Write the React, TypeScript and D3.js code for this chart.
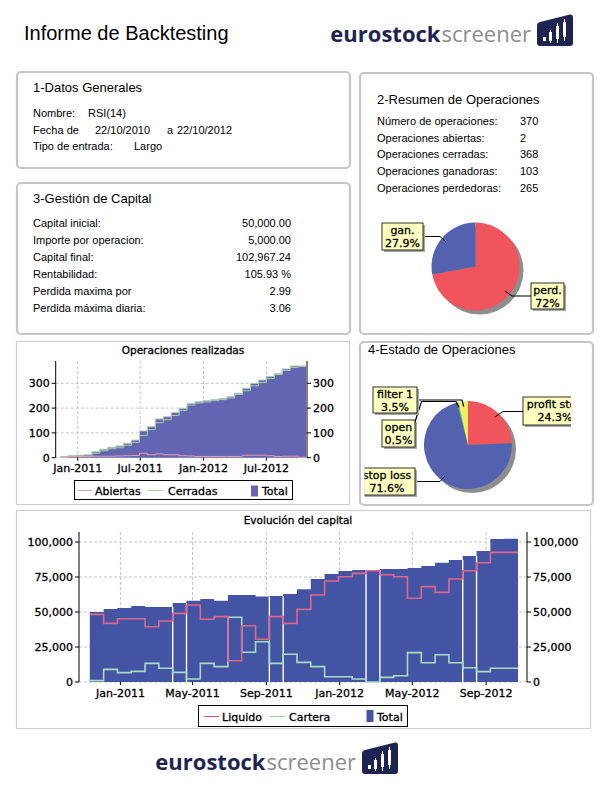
import React from 'react';
import * as d3 from 'd3';

// ---------------- DATA ----------------
const stepDates = [
  '2010-11-11', '2010-12-04', '2010-12-27', '2011-01-19', '2011-02-11', '2011-03-06', '2011-03-29', '2011-04-21',
  '2011-05-14', '2011-06-06', '2011-06-29', '2011-07-22', '2011-08-14', '2011-09-06', '2011-09-29', '2011-10-22',
  '2011-11-14', '2011-12-07', '2011-12-30', '2012-01-22', '2012-02-14', '2012-03-08', '2012-03-31', '2012-04-23',
  '2012-05-16', '2012-06-08', '2012-07-01', '2012-07-24', '2012-08-16', '2012-09-08', '2012-10-01', '2012-10-24',
];

const capTotal = [50000, 52100, 52800, 54200, 53600, 53600, 56400, 58000, 59300, 58000, 62100, 62100, 61000, 61400, 62900, 66200,
  73600, 77100, 79300, 80000, 80000, 80700, 80700, 81400, 82900, 85200, 87100, 90000, 93600, 102100, 102400];
const capLiquido = [48300, 41900, 45200, 45200, 39500, 43600, 49000, 55000, 44800, 46700, 15200, 40200, 30500, 46700, 41900, 51900,
  62100, 72100, 75200, 77600, 79500, 76600, 75200, 59800, 68100, 64000, 73600, 79500, 85200, 92600, 92600];
const capCartera = [1000, 9000, 6700, 7600, 13300, 9800, 6900, 2100, 13300, 11000, 46200, 21200, 28800, 13300, 19800, 14000,
  11000, 3800, 3800, 2100, 0, 3300, 4500, 21000, 13800, 19500, 13800, 10200, 7400, 9800, 9800];
const capGapSteps = [6, 7, 13, 14, 20, 21, 27, 28];

const opsTotal = [5, 9, 10, 12, 24, 34, 42, 47, 58, 71, 108, 125, 156, 165, 182, 199, 219, 226, 230, 235, 239, 246, 260, 280,
  300, 313, 327, 340, 358, 370, 370];
const opsAbiertas = [4, 4, 5, 6, 6, 6, 6, 7, 8, 9, 18, 12, 15, 12, 12, 8, 7, 5, 5, 5, 5, 5, 5, 10, 10, 10, 8, 5, 6, 6, 2];
const opsCerradas = [1, 5, 5, 6, 18, 28, 36, 40, 50, 62, 90, 113, 141, 153, 170, 191, 212, 221, 225, 230, 234, 241, 255, 270,
  290, 303, 319, 335, 352, 364, 368];

const capXTicks = ['2011-01-01', '2011-05-01', '2011-09-01', '2012-01-01', '2012-05-01', '2012-09-01'];
const capYTicks = [0, 25000, 50000, 75000, 100000];
const opsXTicks = ['2011-01-01', '2011-07-01', '2012-01-01', '2012-07-01'];
const opsYTicks = [0, 100, 200, 300];

const datosGenerales = [
  ['Nombre:', 'RSI(14)'],
  ['Fecha de', '22/10/2010', 'a', '22/10/2012'],
  ['Tipo de entrada:', 'Largo'],
];
const resumenLabels = ['Número de operaciones:', 'Operaciones abiertas:', 'Operaciones cerradas:', 'Operaciones ganadoras:', 'Operaciones perdedoras:'];
const resumenValues = ['370', '2', '368', '103', '265'];
const capitalLabels = ['Capital inicial:', 'Importe por operacion:', 'Capital final:', 'Rentabilidad:', 'Perdida maxima por', 'Perdida máxima diaria:'];
const capitalValues = ['50,000.00', '5,000.00', '102,967.24', '105.93 %', '2.99', '3.06'];

const ganPerdNames = ['perd.', 'gan.'];
const ganPerdValues = [72, 27.9];
const estadoNames = ['profit stop', 'stop loss', 'open', 'filter 1'];
const estadoValues = [24.3, 71.6, 0.5, 3.5];

// ---------------- STYLE / LAYOUT ----------------
const CHART_FONT = '"DejaVu Sans", sans-serif';
const PANEL_FONT = '"Liberation Sans", Arial, sans-serif';
const C_RED = '#f0545c';
const C_BLUE = '#5262ae';
const C_GREEN = '#55cc55';
const C_YELLOW = '#f3ef64';
const C_CAP = '#4454a4';
const C_OPS = '#6364b2';
const heavy = { stroke: '#000', strokeWidth: 0.3 } as const;

const parse = d3.timeParse('%Y-%m-%d');
type P = { d: Date; v: number };
const stepPoints = (values: number[]): P[] =>
  stepDates.map((s, i) => ({ d: parse(s) as Date, v: values[Math.min(i, values.length - 1)] }));

const Panel = ({ x, y, w, h, thin }: { x: number; y: number; w: number; h: number; thin?: boolean }) =>
  thin ? (
    <rect x={x + 0.5} y={y + 0.5} width={w} height={h} fill="#fff" stroke="#cfcfcf" strokeWidth={1.2} />
  ) : (
    <rect x={x + 1} y={y + 1} width={w} height={h} rx={4} fill="#fff" stroke="#c6c6c6" strokeWidth={2.2} />
  );

// x = join point between the two words
const Logo = ({ x, y }: { x: number; y: number }) => (
  <g transform={`translate(${x},${y})`}>
    <text x={-0.5} y={0} textAnchor="end" fontFamily='"Open Sans", sans-serif' fontWeight={700} fontSize={22} fill="#1e2452">eurostock</text>
    <text x={0.5} y={0} textAnchor="start" fontFamily='"Open Sans", sans-serif' fontWeight={400} fontSize={22} fill="#8d8d8d">screener</text>
    <g transform="translate(96,-28)">
      <path d="M3,8 Q0,8.6 0,11.6 L0,29 Q0,32 3,32 L33,32 Q36,32 36,29 L36,3 Q36,0 33,0.6 Z" fill="#1e2452" />
      <rect x={6} y={23} width={3} height={4} fill="#fff" />
      <line x1={13.5} y1={16} x2={13.5} y2={29} stroke="#fff" strokeWidth={1} />
      <rect x={12} y={18} width={3} height={9} fill="#fff" />
      <line x1={20.5} y1={9} x2={20.5} y2={29} stroke="#fff" strokeWidth={1} />
      <rect x={19} y={12} width={3} height={13} fill="#fff" />
      <line x1={27.5} y1={5} x2={27.5} y2={27} stroke="#fff" strokeWidth={1} />
      <rect x={26} y={8} width={3} height={15} fill="#fff" />
    </g>
  </g>
);

const LabelBox = ({ x, y, w, h, lines, cx }: { x: number; y: number; w: number; h: number; lines: string[]; cx: number }) => (
  <g>
    <rect x={x + 2} y={y + 2} width={w} height={h} fill="#a8a8a8" />
    <rect x={x} y={y} width={w} height={h} fill="#ffffc0" stroke="#000" strokeWidth={0.8} />
    {lines.map((t, i) => (
      <text key={i} x={cx} y={y + 11 + i * 12.5} textAnchor="middle" fontFamily={CHART_FONT} fontSize={11} fill="#000" {...heavy}>{t}</text>
    ))}
  </g>
);

// ---------------- CHARTS ----------------
const CapitalChart = () => {
  const x = d3.scaleTime().domain([parse('2010-10-24') as Date, parse('2012-11-08') as Date]).range([79, 527]);
  const y = d3.scaleLinear().domain([0, 100000]).range([682, 542]);
  const top = 532;
  const area = d3.area<P>().x((p) => x(p.d)).y0(y(0)).y1((p) => y(p.v)).curve(d3.curveStepAfter);
  const line = d3.line<P>().x((p) => x(p.d)).y((p) => y(p.v)).curve(d3.curveStepAfter);
  const fmtX = d3.timeFormat('%b-%Y');
  const fmtY = d3.format(',');
  const [l, r] = x.range();
  return (
    <g>
      {capYTicks.map((t) => (
        <line key={'h' + t} x1={l} x2={r} y1={y(t)} y2={y(t)} stroke="#c4c4c4" strokeDasharray="3,2" />
      ))}
      {capXTicks.map((t) => (
        <line key={'v' + t} x1={x(parse(t) as Date)} x2={x(parse(t) as Date)} y1={top} y2={y(0)} stroke="#c4c4c4" strokeDasharray="3,2" />
      ))}
      <path d={area(stepPoints(capTotal)) || ''} fill={C_CAP} />
      {capGapSteps.map((k) => {
        const gx = x(parse(stepDates[k]) as Date);
        return <line key={'g' + k} x1={gx} x2={gx} y1={y(0)} y2={y(Math.min(capTotal[k - 1], capTotal[k]))} stroke="#fff" strokeWidth={1.4} />;
      })}
      <path d={line(stepPoints(capCartera)) || ''} fill="none" stroke="#a6dcc2" strokeWidth={1.6} />
      <path d={line(stepPoints(capLiquido)) || ''} fill="none" stroke="#e0668a" strokeWidth={1.6} />
      <line x1={l} x2={l} y1={top} y2={y(0)} stroke="#000" strokeWidth={1} />
      <line x1={r} x2={r} y1={top} y2={y(0)} stroke="#000" strokeWidth={1} />
      <g fontFamily={CHART_FONT} fontSize={11} {...heavy}>
        {capYTicks.map((t) => (
          <g key={'yt' + t}>
            <line x1={l - 4} x2={l} y1={y(t)} y2={y(t)} stroke="#000" strokeWidth={1} />
            <line x1={r} x2={r + 4} y1={y(t)} y2={y(t)} stroke="#000" strokeWidth={1} />
            <text x={l - 6} y={y(t) + 4} textAnchor="end">{fmtY(t)}</text>
            <text x={r + 6} y={y(t) + 4} textAnchor="start">{fmtY(t)}</text>
          </g>
        ))}
        {capXTicks.map((t) => {
          const tx = x(parse(t) as Date);
          return (
            <g key={'xt' + t}>
              <line x1={tx} x2={tx} y1={y(0)} y2={y(0) + 3} stroke="#000" strokeWidth={1} />
              <text x={tx} y={697} textAnchor="middle">{fmtX(parse(t) as Date)}</text>
            </g>
          );
        })}
        <text x={298} y={524} textAnchor="middle" fontSize={10.5}>Evolución del capital</text>
      </g>
      {/* legend */}
      <rect x={198.5} y={705.5} width={209} height={21} fill="#fff" stroke="#000" strokeWidth={1} />
      <line x1={204} x2={219} y1={716.5} y2={716.5} stroke="#e0506e" strokeWidth={1} />
      <line x1={270} x2={285} y1={716.5} y2={716.5} stroke="#8fd08f" strokeWidth={1} />
      <rect x={366.5} y={710} width={7} height={12} fill={C_CAP} />
      <g fontFamily={CHART_FONT} fontSize={11} {...heavy}>
        <text x={222} y={720.5}>Liquido</text>
        <text x={289} y={720.5}>Cartera</text>
        <text x={377} y={720.5}>Total</text>
      </g>
    </g>
  );
};

const OpsChart = () => {
  const x = d3.scaleTime().domain([parse('2010-10-29') as Date, parse('2012-10-27') as Date]).range([55.7, 307]);
  const y = d3.scaleLinear().domain([0, 300]).range([457.7, 383.3]);
  const top = 361;
  const area = d3.area<P>().x((p) => x(p.d)).y0(y(0)).y1((p) => y(p.v)).curve(d3.curveStepAfter);
  const line = d3.line<P>().x((p) => x(p.d)).y((p) => y(p.v)).curve(d3.curveStepAfter);
  const fmtX = d3.timeFormat('%b-%Y');
  const [l, r] = x.range();
  return (
    <g>
      {opsYTicks.map((t) => (
        <line key={'h' + t} x1={l} x2={r} y1={y(t)} y2={y(t)} stroke="#c4c4c4" strokeDasharray="3,2" />
      ))}
      {opsXTicks.map((t) => (
        <line key={'v' + t} x1={x(parse(t) as Date)} x2={x(parse(t) as Date)} y1={top} y2={y(0)} stroke="#c4c4c4" strokeDasharray="3,2" />
      ))}
      <path d={area(stepPoints(opsTotal)) || ''} fill={C_OPS} />
      <path d={line(stepPoints(opsTotal)) || ''} fill="none" stroke="#b8c8c0" strokeWidth={1} />
      <path d={line(stepPoints(opsCerradas)) || ''} fill="none" stroke="#a4d4a4" strokeWidth={1} />
      <path d={line(stepPoints(opsAbiertas)) || ''} fill="none" stroke="#e8a0a8" strokeWidth={1} />
      <line x1={l} x2={l} y1={top} y2={y(0)} stroke="#000" />
      <line x1={r} x2={r} y1={top} y2={y(0)} stroke="#000" />
      <g fontFamily={CHART_FONT} fontSize={11} {...heavy}>
        {opsYTicks.map((t) => (
          <g key={'yt' + t}>
            <line x1={l - 4} x2={l} y1={y(t)} y2={y(t)} stroke="#000" strokeWidth={1} />
            <line x1={r} x2={r + 4} y1={y(t)} y2={y(t)} stroke="#000" strokeWidth={1} />
            <text x={l - 6} y={y(t) + 4} textAnchor="end">{t}</text>
            <text x={r + 6} y={y(t) + 4} textAnchor="start">{t}</text>
          </g>
        ))}
        {opsXTicks.map((t) => {
          const tx = x(parse(t) as Date);
          return (
            <g key={'xt' + t}>
              <line x1={tx} x2={tx} y1={y(0)} y2={y(0) + 3} stroke="#000" strokeWidth={1} />
              <text x={tx} y={472} textAnchor="middle">{fmtX(parse(t) as Date)}</text>
            </g>
          );
        })}
        <text x={183} y={354} textAnchor="middle" fontSize={10.5}>Operaciones realizadas</text>
      </g>
      <rect x={74.5} y={480.5} width={218} height={19} fill="#fff" stroke="#000" strokeWidth={1} />
      <line x1={78} x2={92} y1={490.5} y2={490.5} stroke="#e8a0a8" />
      <line x1={148} x2={163} y1={490.5} y2={490.5} stroke="#a4d4a4" />
      <rect x={251} y={485.5} width={7} height={11} fill={C_OPS} />
      <g fontFamily={CHART_FONT} fontSize={11} {...heavy}>
        <text x={95} y={495}>Abiertas</text>
        <text x={168} y={495}>Cerradas</text>
        <text x={262} y={495}>Total</text>
      </g>
    </g>
  );
};

const PieChart = ({ cx, cy, names, values, colors }: { cx: number; cy: number; names: string[]; values: number[]; colors: string[] }) => {
  const R = 44;
  const arcs = d3.pie<number>().sort(null).value((v) => v)(values);
  const arc = d3.arc<d3.PieArcDatum<number>>().innerRadius(0).outerRadius(R);
  return (
    <g>
      <circle cx={cx + 4} cy={cy + 4} r={R} fill="#8e8e8e" />
      <g transform={`translate(${cx},${cy})`}>
        {arcs.map((a, i) => (
          <path key={names[i]} d={arc(a) || ''} fill={colors[i]} />
        ))}
      </g>
    </g>
  );
};

const anchor = (cx: number, cy: number, values: number[], i: number) => {
  const arcs = d3.pie<number>().sort(null).value((v) => v)(values);
  const m = (arcs[i].startAngle + arcs[i].endAngle) / 2;
  const rr = 44 * 0.88;
  return [cx + Math.sin(m) * rr, cy - Math.cos(m) * rr];
};

export default function App() {
  const p1 = { cx: 475.5, cy: 266.5 };
  const p2 = { cx: 468, cy: 445 };
  const aPerd = anchor(p1.cx, p1.cy, ganPerdValues, 0);
  const aGan = anchor(p1.cx, p1.cy, ganPerdValues, 1);
  const aProfit = anchor(p2.cx, p2.cy, estadoValues, 0);
  const aLoss = anchor(p2.cx, p2.cy, estadoValues, 1);
  const aOpen = anchor(p2.cx, p2.cy, estadoValues, 2);
  const aFilter = anchor(p2.cx, p2.cy, estadoValues, 3);
  return (
    <svg width={612} height={796} style={{ position: 'absolute', left: 0, top: 0, background: '#fff' }} xmlns="http://www.w3.org/2000/svg">
      <rect x={0} y={0} width={612} height={796} fill="#fff" />
      <text x={24} y={40} fontFamily={PANEL_FONT} fontSize={20} fill="#000">Informe de Backtesting</text>
      <Logo x={441} y={42} />

      {/* panel 1 */}
      <Panel x={16} y={71} w={333} h={96} />
      <text x={33} y={92} fontFamily={PANEL_FONT} fontSize={13}>1-Datos Generales</text>
      <g fontFamily={PANEL_FONT} fontSize={11}>
        <text x={33} y={117}>{datosGenerales[0][0]}</text>
        <text x={88} y={117}>{datosGenerales[0][1]}</text>
        <text x={33} y={134}>{datosGenerales[1][0]}</text>
        <text x={95} y={134}>{datosGenerales[1][1]}</text>
        <text x={167} y={134}>{datosGenerales[1][2]}</text>
        <text x={177} y={134}>{datosGenerales[1][3]}</text>
        <text x={33} y={150}>{datosGenerales[2][0]}</text>
        <text x={134} y={150}>{datosGenerales[2][1]}</text>
      </g>

      {/* panel 2 */}
      <Panel x={359} y={72} w={233} h={261} />
      <text x={377} y={104} fontFamily={PANEL_FONT} fontSize={13}>2-Resumen de Operaciones</text>
      <g fontFamily={PANEL_FONT} fontSize={11}>
        {resumenLabels.map((t, i) => (
          <g key={t}>
            <text x={377} y={125 + i * 16.7}>{t}</text>
            <text x={520} y={125 + i * 16.7}>{resumenValues[i]}</text>
          </g>
        ))}
      </g>
      <PieChart cx={p1.cx} cy={p1.cy} names={ganPerdNames} values={ganPerdValues} colors={[C_RED, C_BLUE]} />
      <polyline points={`423,236.5 440,236.5 ${aGan[0]},${aGan[1]}`} fill="none" stroke="#000" strokeWidth={1} />
      <polyline points={`531,296 512,296 ${aPerd[0]},${aPerd[1]}`} fill="none" stroke="#000" strokeWidth={1} />
      <LabelBox x={382} y={223} w={41} h={27} cx={402.5} lines={[ganPerdNames[1], ganPerdValues[1] + '%']} />
      <LabelBox x={531} y={283} w={33} h={26} cx={547.5} lines={[ganPerdNames[0], ganPerdValues[0] + '%']} />

      {/* panel 3 */}
      <Panel x={16} y={182} w={333} h={151} />
      <text x={33} y={203} fontFamily={PANEL_FONT} fontSize={13}>3-Gestión de Capital</text>
      <g fontFamily={PANEL_FONT} fontSize={11}>
        {capitalLabels.map((t, i) => (
          <g key={t}>
            <text x={33} y={226.7 + i * 17}>{t}</text>
            <text x={291} y={226.7 + i * 17} textAnchor="end">{capitalValues[i]}</text>
          </g>
        ))}
      </g>

      {/* ops chart */}
      <Panel x={16} y={341} w={333} h={163} thin />
      <OpsChart />

      {/* panel 4 */}
      <Panel x={359} y={341} w={233} h={163} />
      <text x={368} y={354} fontFamily={PANEL_FONT} fontSize={13}>4-Estado de Operaciones</text>
      <defs>
        <clipPath id="clipEstado">
          <rect x={364.5} y={358} width={206.5} height={144} />
        </clipPath>
      </defs>
      <g clipPath="url(#clipEstado)">
        <PieChart cx={p2.cx} cy={p2.cy} names={estadoNames} values={estadoValues} colors={[C_RED, C_BLUE, C_GREEN, C_YELLOW]} />
        <polyline points={`417,400 462,400 ${aFilter[0]},${aFilter[1]}`} fill="none" stroke="#000" strokeWidth={1.2} />
        <polyline points={`415,422 421.5,401.5 456,401.5 ${aOpen[0]},${aOpen[1]}`} fill="none" stroke="#000" strokeWidth={1.2} />
        <polyline points={`523,411.5 503,411.5 ${aProfit[0]},${aProfit[1]}`} fill="none" stroke="#000" strokeWidth={1} />
        <polyline points={`415,481.5 440,481.5 ${aLoss[0]},${aLoss[1]}`} fill="none" stroke="#000" strokeWidth={1} />
        <LabelBox x={373} y={387} w={44} h={26} cx={395} lines={[estadoNames[3], estadoValues[3] + '%']} />
        <LabelBox x={382} y={420} w={33} h={27} cx={398.5} lines={[estadoNames[2], estadoValues[2] + '%']} />
        <LabelBox x={523} y={397} w={64} h={28} cx={555} lines={[estadoNames[0], estadoValues[0] + '%']} />
        <LabelBox x={359} y={468} w={56} h={27} cx={387} lines={[estadoNames[1], estadoValues[1] + '%']} />
      </g>

      {/* capital chart */}
      <Panel x={16} y={510} w={574} h={218} thin />
      <CapitalChart />

      <Logo x={266} y={770} />
    </svg>
  );
}
